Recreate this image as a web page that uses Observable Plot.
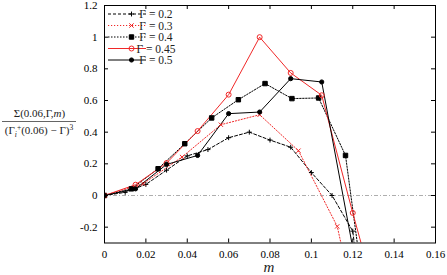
<!DOCTYPE html>
<html><head><meta charset="utf-8">
<script src="https://cdn.jsdelivr.net/npm/d3@7"></script>
<script src="https://cdn.jsdelivr.net/npm/@observablehq/plot@0.6"></script>
<style>
body{margin:0;background:#fff;}
#chart{position:relative;width:447px;height:275px;}
#chart svg text, #chart svg tspan{font-family:"Liberation Serif","DejaVu Serif",serif !important;}
</style></head><body><div id="chart"></div>
<script>
// ---- data ----
const gammaLabels = ["Γ = 0.2", "Γ = 0.3", "Γ = 0.4", "Γ = 0.45", "Γ = 0.5"];
const m_02  = [0, 0.01, 0.02, 0.03, 0.04, 0.05, 0.06, 0.07, 0.08, 0.09, 0.10, 0.11, 0.12, 0.13];
const v_02  = [0, 0.02, 0.07, 0.16, 0.25, 0.29, 0.365, 0.40, 0.35, 0.305, 0.145, 0.0, -0.225, -1.28];
const m_03  = [0, 0.01875, 0.0375, 0.05625, 0.075, 0.09375, 0.1125, 0.13125];
const v_03  = [0, 0.075, 0.243, 0.447, 0.51, 0.283, -0.195, -1.3];
const m_04  = [0, 0.013, 0.0259, 0.0388, 0.0518, 0.0647, 0.0776, 0.0906, 0.1035, 0.1165, 0.1294];
const v_04  = [0, 0.042, 0.169, 0.327, 0.49, 0.605, 0.707, 0.612, 0.616, 0.253, -1.0];
const m_045 = [0, 0.015, 0.03, 0.045, 0.06, 0.075, 0.09, 0.105, 0.12, 0.135];
const v_045 = [0, 0.068, 0.205, 0.407, 0.637, 1.0, 0.774, 0.633, -0.11, -0.82];
const m_05  = [0, 0.015, 0.03, 0.045, 0.06, 0.075, 0.09, 0.105, 0.12];
const v_05  = [0, 0.042, 0.196, 0.253, 0.517, 0.527, 0.738, 0.717, -0.33];
const xTicks = [0, 0.02, 0.04, 0.06, 0.08, 0.1, 0.12, 0.14, 0.16];
const yTicks = [-0.2, 0, 0.2, 0.4, 0.6, 0.8, 1, 1.2];
const xDomain = [0, 0.16];
const yDomain = [-0.3, 1.2];

// ---- styles ----
const RED = "#f02828";
const styles = [
  {color: "#000", dash: "3,2", symbol: "plus", fill: "none", r: 1.7},
  {color: RED, dash: "1.2,1.8", symbol: "times", fill: "none", r: 2.1},
  {color: "#000", dash: "1.5,1.5", symbol: "square", fill: "#000", r: 2.5},
  {color: RED, dash: null, symbol: "circle", fill: "none", r: 2.5},
  {color: "#000", dash: null, symbol: "circle", fill: "#000", r: 2.1}
];
const mArrays = [m_02, m_03, m_04, m_045, m_05];
const vArrays = [v_02, v_03, v_04, v_045, v_05];
const series = gammaLabels.map((label, k) => ({
  label, ...styles[k],
  rows: mArrays[k].map((m, i) => ({m, v: vArrays[k][i]}))
}));

const W = 447, H = 275, mL = 104, mR = 12, mT = 5, mB = 32.5;
const fw = W - mL - mR, fh = H - mT - mB;
const FONT = "Liberation Serif, DejaVu Serif, serif";
const fmt = d => String(+d.toFixed(2)).replace("−", "-");

const marks = [
  Plot.ruleY([0], {stroke: "#999", strokeWidth: 0.8, strokeDasharray: "4,2,1,2"}),
  ...series.map(s => Plot.line(s.rows, {x: "m", y: "v", stroke: s.color, strokeWidth: 1,
      strokeDasharray: s.dash, clip: true})),
  ...series.map(s => Plot.dot(s.rows, {x: "m", y: "v", symbol: () => s.symbol, r: s.r,
      stroke: s.color, fill: s.fill, strokeWidth: 1, clip: true})),
  Plot.tickX(xTicks, {x: d => d, insetTop: fh - 4, stroke: "#000"}),
  Plot.tickX(xTicks, {x: d => d, insetBottom: fh - 4, stroke: "#000"}),
  Plot.tickY(yTicks, {y: d => d, insetRight: fw - 4, stroke: "#000"}),
  Plot.tickY(yTicks, {y: d => d, insetLeft: fw - 4, stroke: "#000"}),
  Plot.axisX({ticks: xTicks, tickSize: 0, tickPadding: 7, tickFormat: fmt, label: null}),
  Plot.axisY({ticks: yTicks, tickSize: 0, tickPadding: 7, tickFormat: fmt, label: null}),
  Plot.frame({stroke: "#000", strokeWidth: 1})
];

const plot = Plot.plot({
  width: W, height: H,
  marginLeft: mL, marginRight: mR, marginTop: mT, marginBottom: mB,
  x: {domain: xDomain},
  y: {domain: yDomain},
  style: {fontFamily: FONT, fontSize: "11px", background: "#fff", color: "#000"},
  marks
});
document.getElementById("chart").appendChild(plot);

// ---- legend, axis titles ----
const svg = d3.select(plot);
const symMap = {plus: d3.symbolPlus, times: d3.symbolTimes, square: d3.symbolSquare, circle: d3.symbolCircle};
const leg = svg.append("g").attr("font-size", 11.5);
series.forEach((s, i) => {
  const y = 14 + i * 11.5;
  leg.append("line").attr("x1", 108).attr("x2", 146).attr("y1", y).attr("y2", y)
    .attr("stroke", s.color).attr("stroke-width", 1).attr("stroke-dasharray", s.dash);
  leg.append("path").attr("transform", `translate(131.5,${y})`)
    .attr("d", d3.symbol(symMap[s.symbol], Math.PI * s.r * s.r)())
    .attr("stroke", s.color).attr("fill", s.fill).attr("stroke-width", 1);
  leg.append("text").attr("x", 156).attr("y", y).attr("dy", "0.35em").attr("fill", "#222")
    .attr("xml:space", "preserve").text(s.label);
});

const yl = svg.append("g").attr("font-size", 11).attr("fill", "#222");
const num = yl.append("text").attr("x", 39.5).attr("y", 117).attr("text-anchor", "middle");
num.append("tspan").text("Σ(0.06,Γ,");
num.append("tspan").attr("font-style", "italic").text("m");
num.append("tspan").text(")");
yl.append("line").attr("x1", 2).attr("x2", 76).attr("y1", 121.5).attr("y2", 121.5)
  .attr("stroke", "#222").attr("stroke-width", 0.7);
const den = yl.append("text").attr("x", 39).attr("y", 134).attr("text-anchor", "middle");
den.append("tspan").text("(Γ");
den.append("tspan").attr("font-size", 7.5).attr("font-style", "italic").attr("dy", 3).text("i");
den.append("tspan").attr("font-size", 7.5).attr("dy", -7).text("+");
den.append("tspan").attr("dy", 4).text("(0.06) − Γ)");
den.append("tspan").attr("font-size", 7.5).attr("dy", -4).text("3");

svg.append("text").attr("x", 269).attr("y", 272).attr("text-anchor", "middle")
  .attr("font-size", 15).attr("font-style", "italic").attr("fill", "#222").text("m");
</script>
</body></html>
